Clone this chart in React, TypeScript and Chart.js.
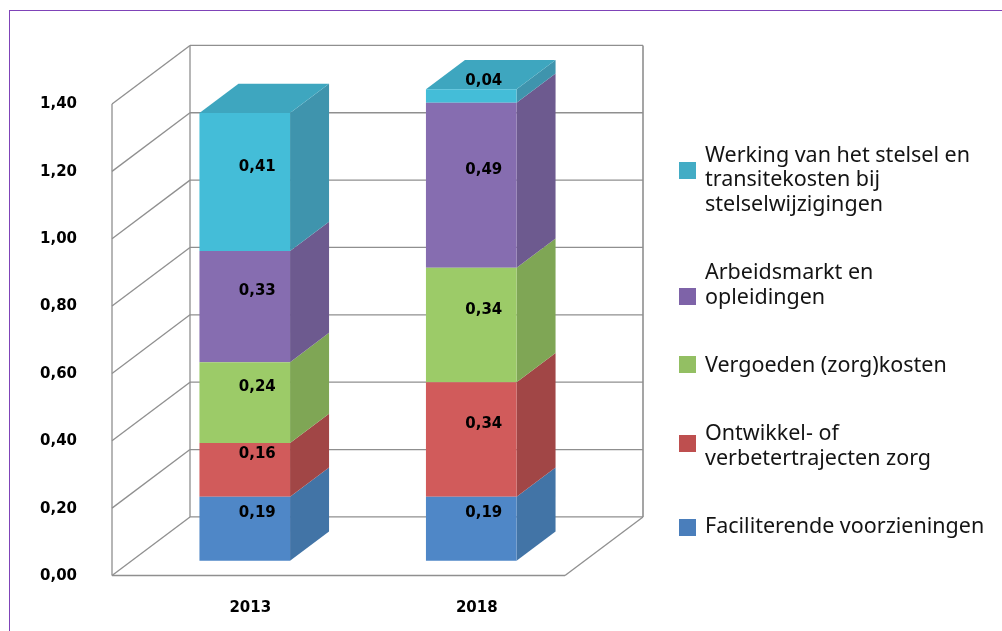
import React, { useEffect, useRef } from "react";
import { Chart, registerables } from "chart.js";

Chart.register(...registerables);

const categories = ["2013", "2018"];
const facilitating = [0.19, 0.19];
const development = [0.16, 0.34];
const reimbursed = [0.24, 0.34];
const labour = [0.33, 0.49];
const system = [0.41, 0.04];
const yTicksMax = 1.4;

const labelFacilitating = ["Faciliterende voorzieningen"];
const labelDevelopment = ["Ontwikkel- of", "verbetertrajecten zorg"];
const labelReimbursed = ["Vergoeden (zorg)kosten"];
const labelLabour = ["Arbeidsmarkt en", "opleidingen"];
const labelSystem = ["Werking van het stelsel en", "transitekosten bij", "stelselwijzigingen"];

const frontColors = ["#4f87c7", "#d15b5b", "#9ccb68", "#866db0", "#44bdd8"];
const sideColors = ["#4274a6", "#a14646", "#7fa655", "#6d5a8f", "#3f94ad"];
const swatchColors = ["#4a7ebb", "#be4f4f", "#93bf63", "#7e63a8", "#43acc5"];
const topColor = "#3ea6bf";

const GRID = "#8f8f8f";
const WALL_DX = 78;
const WALL_DY = -58.6;
const BAR_SHIFT_X = WALL_DX / 4;
const BAR_SHIFT_Y = WALL_DY / 4;
const BAR_DX = WALL_DX / 2;
const BAR_DY = WALL_DY / 2;
const LABEL_FONT = "bold 15px 'DejaVu Sans'";
const LEGEND_FONT = "21.5px 'Noto Sans'";
const SWATCH_SHIFT = [0, -15, -2, -1, -34];

const comma = (v: number) => v.toFixed(2).replace(".", ",");

const poly = (ctx: CanvasRenderingContext2D, pts: number[][], fill: string) => {
  ctx.beginPath();
  pts.forEach(([x, y], i) => (i ? ctx.lineTo(x, y) : ctx.moveTo(x, y)));
  ctx.closePath();
  ctx.fillStyle = fill;
  ctx.fill();
};

const seg = (ctx: CanvasRenderingContext2D, x1: number, y1: number, x2: number, y2: number) => {
  ctx.beginPath();
  ctx.moveTo(x1, y1);
  ctx.lineTo(x2, y2);
  ctx.stroke();
};

const bar3d = {
  id: "bar3d",
  beforeDatasetsDraw(chart: any) {
    const { ctx, scales } = chart;
    const { x: xs, y: ys } = scales;
    const left = xs.left;
    const right = xs.right;
    const y0 = ys.getPixelForValue(0);
    const yTop = ys.getPixelForValue(yTicksMax);
    ctx.save();
    ctx.strokeStyle = GRID;
    ctx.lineWidth = 1.3;
    ys.ticks.forEach((t: any) => {
      const y = ys.getPixelForValue(t.value);
      seg(ctx, left, y, left + WALL_DX, y + WALL_DY);
      seg(ctx, left + WALL_DX, y + WALL_DY, right + WALL_DX, y + WALL_DY);
    });
    seg(ctx, left, y0, left, yTop);
    seg(ctx, left + WALL_DX, y0 + WALL_DY, left + WALL_DX, yTop + WALL_DY);
    seg(ctx, left, y0, right, y0);
    seg(ctx, right, y0, right + WALL_DX, y0 + WALL_DY);
    ctx.lineWidth = 1.6;
    seg(ctx, right + WALL_DX, y0 + WALL_DY, right + WALL_DX, yTop + WALL_DY);

    const n = chart.data.datasets.length;
    for (let d = 0; d < n; d++) {
      chart.getDatasetMeta(d).data.forEach((el: any) => {
        const r = el.x + el.width / 2 + BAR_SHIFT_X;
        const l = el.x - el.width / 2 + BAR_SHIFT_X;
        const t = el.y + BAR_SHIFT_Y;
        const b = el.base + BAR_SHIFT_Y;
        poly(ctx, [[r, t], [r + BAR_DX, t + BAR_DY], [r + BAR_DX, b + BAR_DY], [r, b]], sideColors[d]);
        if (d === n - 1) {
          poly(ctx, [[l, t], [l + BAR_DX, t + BAR_DY], [r + BAR_DX, t + BAR_DY], [r, t]], topColor);
        }
      });
    }
    ctx.restore();
  },
  beforeDatasetDraw(chart: any) {
    chart.ctx.save();
    chart.ctx.translate(BAR_SHIFT_X, BAR_SHIFT_Y);
  },
  afterDatasetDraw(chart: any) {
    chart.ctx.restore();
  },
  afterDatasetsDraw(chart: any) {
    const { ctx } = chart;
    ctx.save();
    ctx.font = LABEL_FONT;
    ctx.fillStyle = "#000";
    ctx.textAlign = "center";
    ctx.textBaseline = "middle";
    chart.data.datasets.forEach((ds: any, d: number) => {
      chart.getDatasetMeta(d).data.forEach((el: any, i: number) => {
        ctx.fillText(comma(ds.data[i]), el.x + 32, (el.y + el.base) / 2 - 30);
      });
    });
    ctx.restore();
  },
  afterDraw(chart: any) {
    const { ctx } = chart;
    const lineH = 24.7;
    const gap = 43.5;
    let y = 155.5;
    ctx.save();
    ctx.font = LEGEND_FONT;
    ctx.textBaseline = "middle";
    ctx.textAlign = "left";
    for (let d = chart.data.datasets.length - 1; d >= 0; d--) {
      const lines: string[] = chart.data.datasets[d].legendLines;
      const last = y + (lines.length - 1) * lineH;
      ctx.fillStyle = swatchColors[d];
      ctx.fillRect(679, Math.round(last + SWATCH_SHIFT[d] - 8.5), 17, 17);
      ctx.fillStyle = "#141414";
      lines.forEach((line, i) => ctx.fillText(line, 705, y + i * lineH));
      y += lines.length * lineH + gap;
    }
    ctx.restore();
  },
};

export default function App() {
  const ref = useRef<HTMLCanvasElement>(null);
  useEffect(() => {
    if (!ref.current) return;
    const series = [
      [labelFacilitating, facilitating],
      [labelDevelopment, development],
      [labelReimbursed, reimbursed],
      [labelLabour, labour],
      [labelSystem, system],
    ] as [string[], number[]][];
    const chart = new Chart(ref.current, {
      type: "bar",
      data: {
        labels: categories,
        datasets: series.map(([lines, data], i) => ({
          label: lines.join(" "),
          legendLines: lines,
          data,
          backgroundColor: frontColors[i],
          borderWidth: 0,
          barPercentage: 0.4,
          categoryPercentage: 1,
          clip: false,
        })) as any,
      },
      options: {
        responsive: false,
        animation: false,
        layout: { padding: { left: 0, top: 104, right: 437, bottom: 0 } },
        plugins: { legend: { display: false }, tooltip: { enabled: false }, title: { display: false } },
        scales: {
          x: {
            stacked: true,
            grid: { display: false },
            border: { display: false },
            afterFit(s: any) {
              s.height = 55.5;
              s.paddingLeft = 0;
              s.paddingRight = 0;
            },
            ticks: {
              color: "#000",
              padding: 16,
              labelOffset: 25,
              maxRotation: 0,
              font: { family: "'DejaVu Sans'", weight: "bold", size: 15 },
            },
          },
          y: {
            stacked: true,
            min: 0,
            max: yTicksMax,
            grid: { display: false },
            border: { display: false },
            afterFit(s: any) {
              s.width = 112;
              s.paddingTop = 0;
              s.paddingBottom = 0;
            },
            ticks: {
              stepSize: 0.2,
              color: "#000",
              padding: 27,
              labelOffset: 0.5,
              callback: (v: any) => comma(Number(v)),
              font: { family: "'DejaVu Sans'", weight: "bold", size: 15 },
            },
          },
        },
      },
      plugins: [bar3d],
    } as any);
    return () => chart.destroy();
  }, []);
  return (
    <div style={{ position: "absolute", left: 0, top: 0, width: 1002, height: 631, overflow: "hidden", background: "#fff" }}>
      <div
        style={{
          position: "absolute",
          left: 9,
          top: 10,
          right: 0,
          bottom: 0,
          borderLeft: "1px solid #7f43b8",
          borderTop: "1px solid #7f43b8",
        }}
      />
      <canvas ref={ref} width={1002} height={631} style={{ position: "absolute", left: 0, top: 0, display: "block" }} />
    </div>
  );
}
